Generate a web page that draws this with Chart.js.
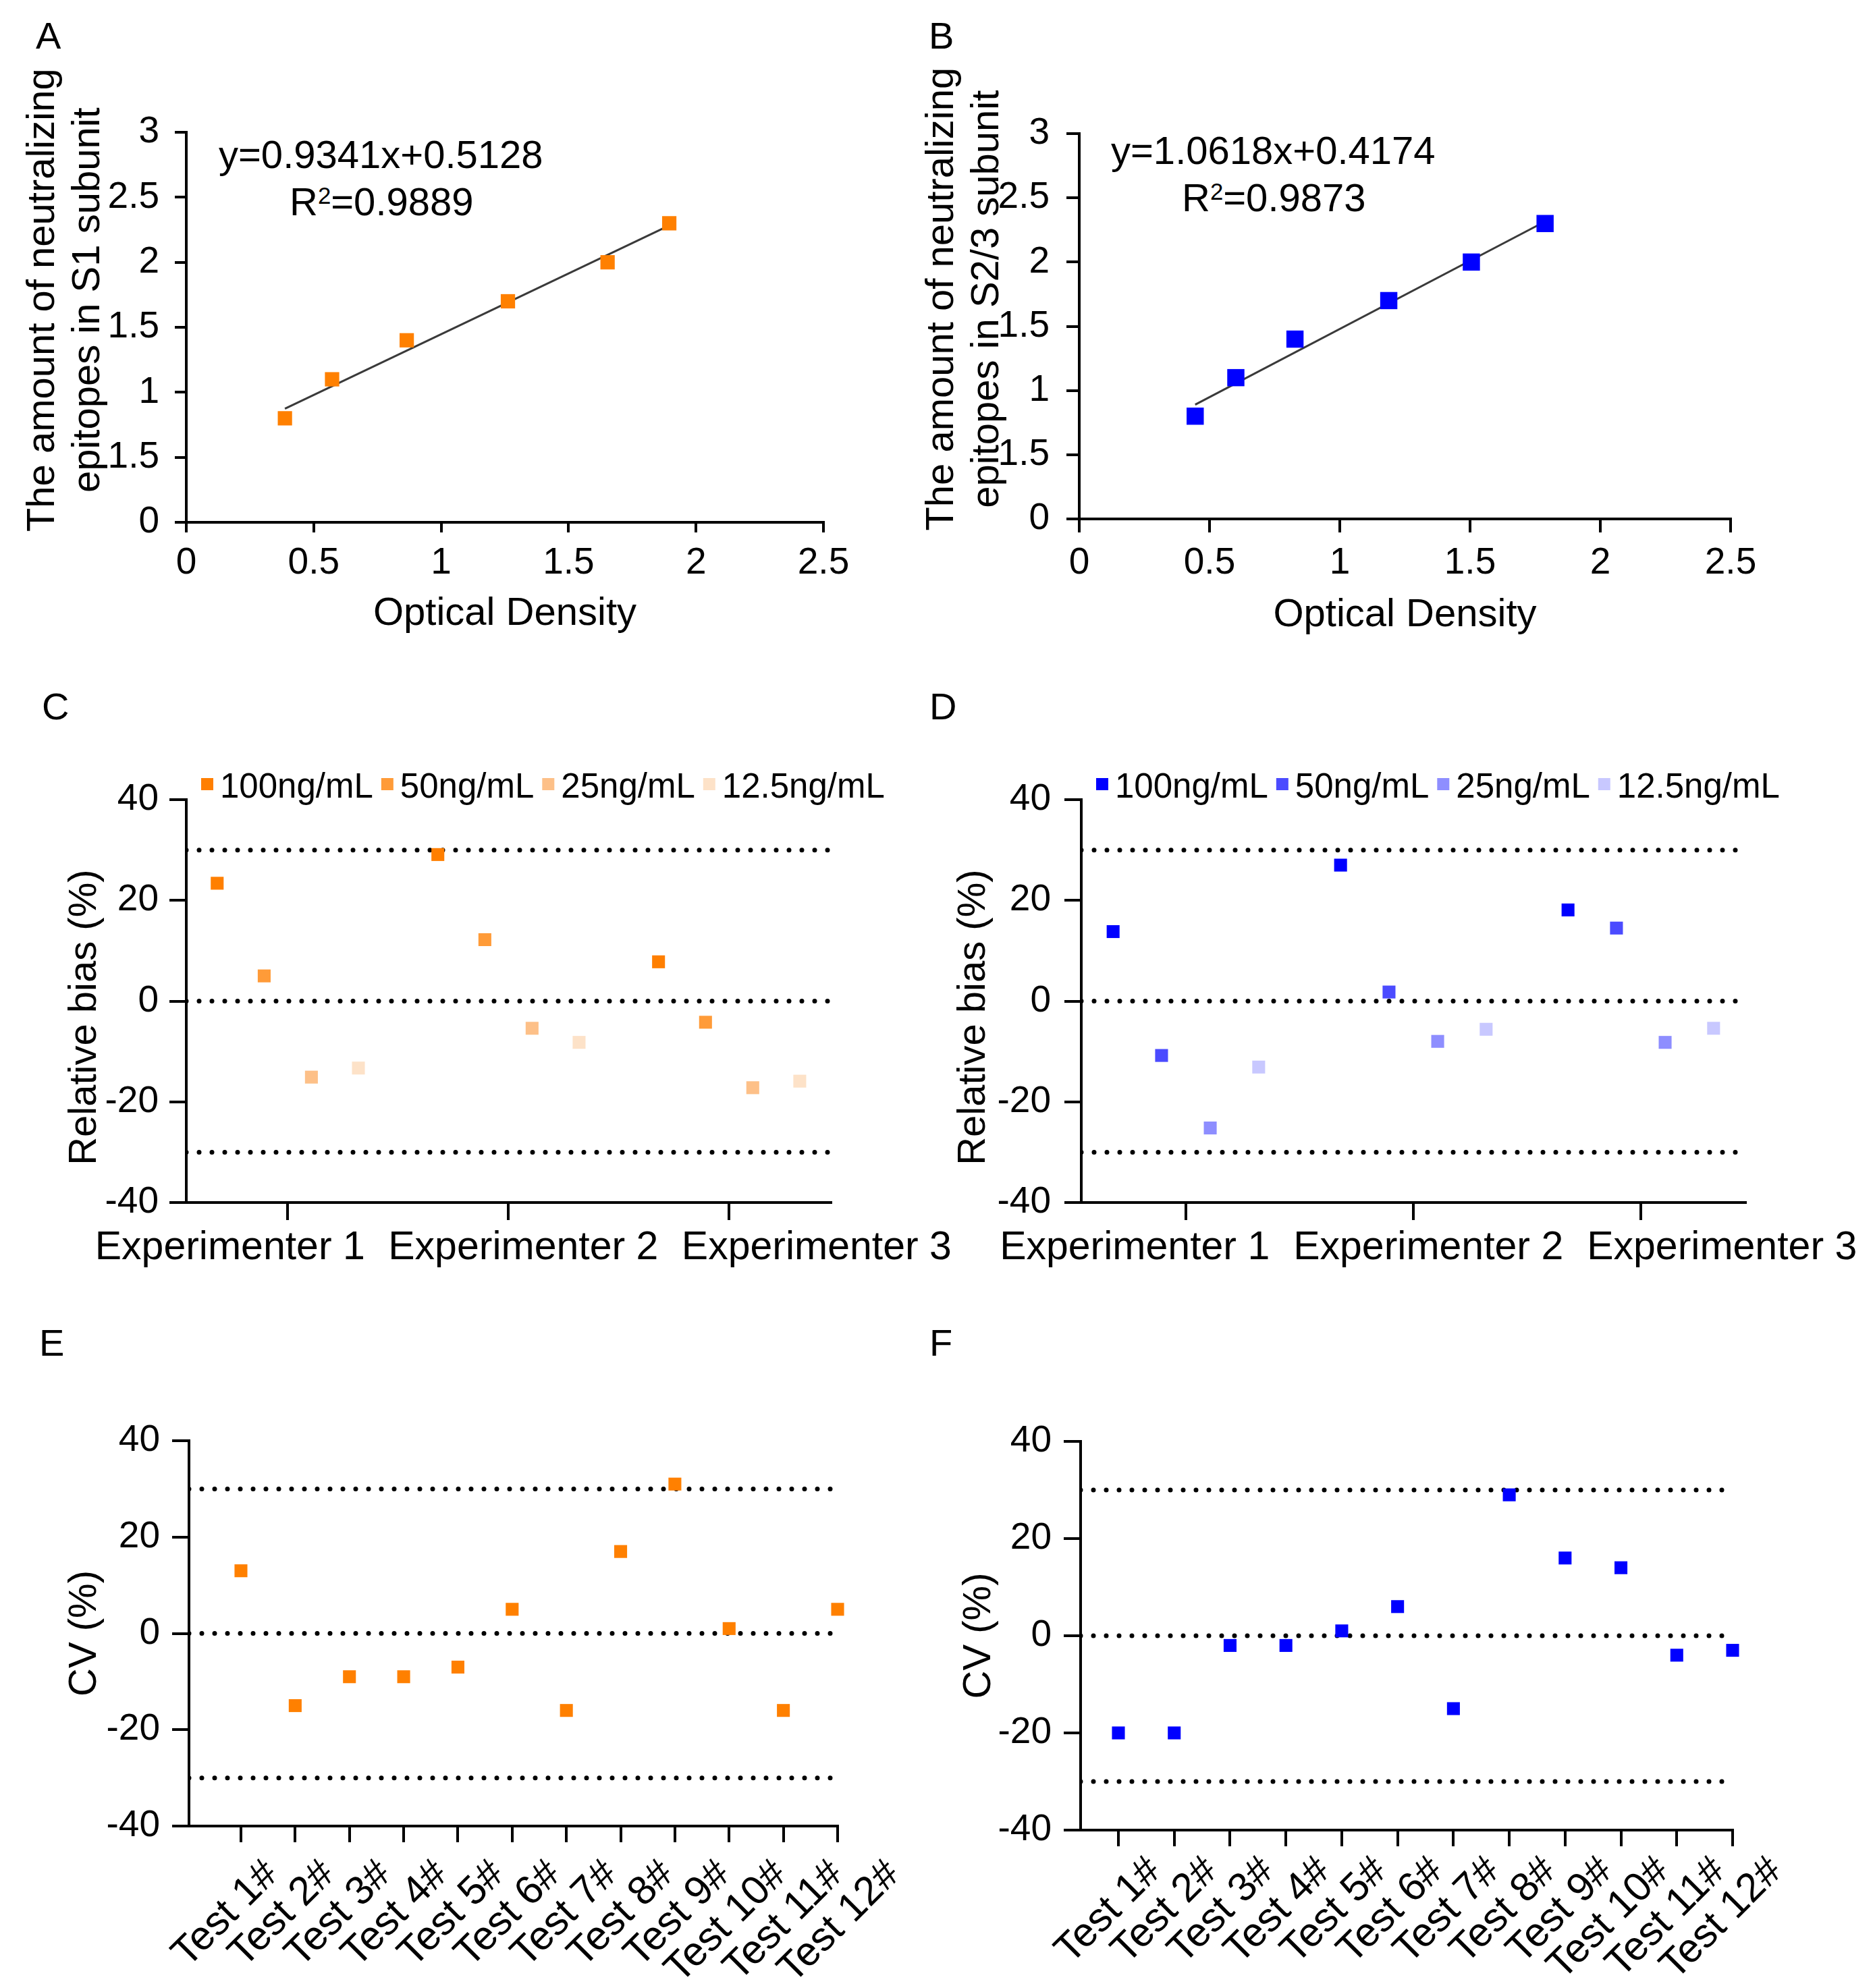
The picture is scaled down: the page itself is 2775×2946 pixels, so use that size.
<!DOCTYPE html>
<html><head><meta charset="utf-8">
<script src="https://cdn.jsdelivr.net/npm/chart.js@4.4.1/dist/chart.umd.min.js"></script>
<style>
html,body{margin:0;padding:0;background:#fff;}
body{width:2775px;height:2946px;position:relative;overflow:hidden;font-family:'Liberation Sans',Arial,sans-serif;color:#000;}
canvas{position:absolute;}
.lbl{position:absolute;font-size:56px;line-height:1;white-space:nowrap;}
.eq{position:absolute;font-size:58px;line-height:1;white-space:nowrap;}
.eq .sp{font-size:0.6em;position:relative;top:-0.5em;}
</style></head><body>
<div class="lbl" style="left:53px;top:25px">A</div>
<div class="lbl" style="left:1376px;top:25px">B</div>
<div class="lbl" style="left:62px;top:1019px">C</div>
<div class="lbl" style="left:1377px;top:1019px">D</div>
<div class="lbl" style="left:58px;top:1962px">E</div>
<div class="lbl" style="left:1377px;top:1962px">F</div>

<div class="eq" style="left:324px;top:200px">y=0.9341x+0.5128</div>
<div class="eq" style="left:429px;top:270px">R<span class="sp">2</span>=0.9889</div>
<div class="eq" style="left:1646px;top:194px">y=1.0618x+0.4174</div>
<div class="eq" style="left:1751px;top:264px">R<span class="sp">2</span>=0.9873</div>

<canvas id="cA" width="1280" height="883" style="left:0px;top:60px"></canvas>
<canvas id="cB" width="1294" height="885" style="left:1330px;top:60px"></canvas>
<canvas id="cC" width="1420" height="803" style="left:0px;top:1115px"></canvas>
<canvas id="cD" width="1445" height="803" style="left:1330px;top:1115px"></canvas>
<canvas id="cE" width="1441" height="862" style="left:0px;top:2084px"></canvas>
<canvas id="cF" width="1437" height="861" style="left:1330px;top:2085px"></canvas>

<script>
// ---------------- DATA ----------------
// Panel A (S1 calibration)
const odS1 = [0.387, 0.572, 0.865, 1.262, 1.653, 1.895];
const epitopeS1 = [0.8, 1.1, 1.4, 1.7, 2.0, 2.3];
const slopeS1 = 0.9341;
const interceptS1 = 0.5128;
// Panel B (S2/3 calibration)
const odS23 = [0.445, 0.601, 0.828, 1.188, 1.505, 1.788];
const epitopeS23 = [0.8, 1.1, 1.4, 1.7, 2.0, 2.3];
const slopeS23 = 1.0618;
const interceptS23 = 0.4174;
// calibration axes
const odTicks = [0, 0.5, 1, 1.5, 2, 2.5];
const odTickLabels = ['0', '0.5', '1', '1.5', '2', '2.5'];
const epTicks = [0, 0.5, 1, 1.5, 2, 2.5, 3];
const epTickLabels = ['0', '1.5', '1', '1.5', '2', '2.5', '3'];
// Panels C / D (relative bias)
const experimenters = ['Experimenter 1', 'Experimenter 2', 'Experimenter 3'];
const concentrations = ['100ng/mL', '50ng/mL', '25ng/mL', '12.5ng/mL'];
const biasS1_100 = [23.4, 29.1, 7.8];
const biasS1_50 = [5.0, 12.2, -4.2];
const biasS1_25 = [-15.1, -5.4, -17.2];
const biasS1_12 = [-13.3, -8.2, -15.9];
const biasS23_100 = [13.8, 27.0, 18.1];
const biasS23_50 = [-10.8, 1.8, 14.5];
const biasS23_25 = [-25.2, -8.0, -8.2];
const biasS23_12 = [-13.1, -5.6, -5.4];
// Panels E / F (CV)
const tests = ['Test 1#', 'Test 2#', 'Test 3#', 'Test 4#', 'Test 5#', 'Test 6#', 'Test 7#', 'Test 8#', 'Test 9#', 'Test 10#', 'Test 11#', 'Test 12#'];
const cvS1 = [13, -15, -9, -9, -7, 5, -16, 17, 31, 1, -16, 5];
const cvS23 = [-20, -20, -2, -2, 1, 6, -15, 29, 16, 14, -4, -3];
// percent axes
const pctTicks = [-40, -20, 0, 20, 40];
const pctTickLabels = ['-40', '-20', '0', '20', '40'];
const limitLines = [30, 0, -30];

// ---------------- STYLE ----------------
const FONT = "'Liberation Sans', Arial, sans-serif";
Chart.defaults.font.family = FONT;
Chart.defaults.color = '#000';
const ORANGE = '#FF8000';
const BLUE = '#0000FF';
const orangeShades = ['#FF7F00', '#FF9B38', '#FDC088', '#FDE2C8'];
const blueShades = ['#0000FF', '#4B4BFF', '#8E8EFF', '#C8C8FF'];
const dodge = [-0.32, -0.107, 0.107, 0.32];

const squareLegend = {
  id: 'squareLegend',
  afterDraw(chart, args, o) {
    if (!o || !o.display) return;
    const ctx = chart.ctx, ca = chart.chartArea;
    ctx.save();
    ctx.font = o.fontSize + 'px ' + FONT;
    ctx.textBaseline = 'middle';
    ctx.textAlign = 'left';
    let x = ca.left + o.offsetX;
    const yBox = ca.top + o.boxDy, yText = ca.top + o.textDy;
    chart.data.datasets.forEach(ds => {
      if (!ds.inLegend) return;
      ctx.fillStyle = ds.backgroundColor;
      ctx.fillRect(x, yBox - o.box / 2, o.box, o.box);
      x += o.box + o.gap;
      ctx.fillStyle = '#000';
      ctx.fillText(ds.label, x, yText);
      x += ctx.measureText(ds.label).width + o.itemGap;
    });
    ctx.restore();
  }
};

function yScale(o) {
  return {
    type: 'linear', position: 'left', min: o.min, max: o.max,
    afterBuildTicks: s => { s.ticks = o.ticks.map(v => ({ value: v })); },
    afterFit: s => { s.width = o.width; },
    ticks: { callback: (v, i) => o.labels[i], font: { size: 55 }, padding: o.pad, color: '#000', autoSkip: false },
    grid: { display: true, drawOnChartArea: false, drawTicks: true, tickLength: o.tickLen, color: '#000', lineWidth: 4 },
    border: { display: true, color: '#000', width: 4 },
    title: { display: true, text: o.title, color: '#000', font: { size: 58, lineHeight: 1.15 }, padding: { top: o.titlePad, bottom: 0 } }
  };
}
function xScale(o) {
  return {
    type: 'linear', position: 'bottom', weight: 0, min: o.min, max: o.max,
    afterBuildTicks: s => { s.ticks = o.ticks.map(v => ({ value: v })); },
    afterFit: s => { s.height = o.height; },
    ticks: { display: o.labels !== null, callback: (v, i) => o.labels ? o.labels[i] : '', font: { size: 55 },
      padding: o.pad, color: '#000', autoSkip: false, maxRotation: 0, minRotation: 0 },
    grid: { display: true, drawOnChartArea: false, drawTicks: true, tickLength: o.tickLen, color: '#000', lineWidth: 4 },
    border: { display: true, color: '#000', width: 4 },
    title: o.title ? { display: true, text: o.title, color: '#000', font: { size: 58, lineHeight: 1.15 }, padding: { top: 0, bottom: 0 } } : { display: false }
  };
}
// label-only bottom axis (category names), placed below the tick axis
function labelAxis(o) {
  return {
    type: 'linear', position: 'bottom', weight: 1, display: true, min: o.min, max: o.max,
    afterBuildTicks: s => { s.ticks = o.ticks.map(v => ({ value: v })); },
    afterFit: s => { s.height = o.height; },
    ticks: { callback: (v, i) => o.labels[i], font: { size: o.fontSize, lineHeight: 1.2 }, padding: o.pad, color: '#000',
      autoSkip: false, maxRotation: o.rot, minRotation: o.rot },
    grid: { display: false, drawTicks: false },
    border: { display: false }
  };
}
function limitDatasets(xmin, xmax) {
  return limitLines.map(v => ({
    label: 'limit ' + v, data: [{ x: xmin, y: v }, { x: xmax, y: v }], showLine: true,
    pointRadius: 0, borderColor: '#000', borderWidth: 7, borderDash: [0, 19], borderCapStyle: 'round'
  }));
}
const basePlugins = { legend: { display: false }, tooltip: { enabled: false } };

// ---------------- PANEL A / B ----------------
function calibChart(id, xs, ys, slope, intercept, color, r, ax) {
  const x0 = Math.min(...xs), x1 = Math.max(...xs);
  new Chart(document.getElementById(id), {
    type: 'scatter',
    data: { datasets: [
      { label: 'points', data: xs.map((x, i) => ({ x, y: ys[i] })), backgroundColor: color, pointStyle: 'rect', pointRadius: r, pointBorderWidth: 0, clip: false },
      { label: 'fit', data: [{ x: x0, y: slope * x0 + intercept }, { x: x1, y: slope * x1 + intercept }], showLine: true, pointRadius: 0, borderColor: '#3a3a3a', borderWidth: 3 }
    ] },
    options: {
      responsive: false, animation: false, devicePixelRatio: 1,
      layout: { padding: { top: ax.padT, right: 60, left: 0, bottom: 0 } },
      plugins: basePlugins,
      scales: {
        x: xScale({ min: 0, max: 2.5, ticks: odTicks, labels: odTickLabels, height: ax.xh, tickLen: ax.xtl, pad: ax.xpad, title: 'Optical Density' }),
        y: yScale({ min: 0, max: 3, ticks: epTicks, labels: epTickLabels, width: ax.yw, tickLen: ax.ytl, pad: ax.ypad, title: ax.title, titlePad: ax.titlePad })
      }
    }
  });
}
// leading spaces nudge the rotated two-line title upward, as in the original figure
const titlePush = '     ';
calibChart('cA', odS1, epitopeS1, slopeS1, interceptS1, ORANGE, 15,
  { padT: 136, xh: 169, xtl: 15, xpad: 13, yw: 276, ytl: 17, ypad: 23, title: [titlePush + 'The amount of neutralizing', titlePush + 'epitopes in S1 subunit'], titlePad: 31 });
calibChart('cB', odS23, epitopeS23, slopeS23, interceptS23, BLUE, 18,
  { padT: 138, xh: 176, xtl: 20, xpad: 13, yw: 269, ytl: 19, ypad: 25, title: [titlePush + 'The amount of neutralizing', titlePush + 'epitopes in S2/3 subunit'], titlePad: 33 });

// ---------------- PANEL C / D ----------------
function biasChart(id, series, shades, ax) {
  const xmin = 0.54, xmax = 3.46;
  const pts = series.map((vals, k) => ({
    label: concentrations[k], inLegend: true,
    data: vals.map((v, i) => ({ x: i + 1 + dodge[k], y: v })),
    backgroundColor: shades[k], pointStyle: 'rect', pointRadius: 13.5, pointBorderWidth: 0, clip: false
  }));
  new Chart(document.getElementById(id), {
    type: 'scatter',
    data: { datasets: pts.concat(limitDatasets(xmin, xmax)) },
    options: {
      responsive: false, animation: false, devicePixelRatio: 1,
      layout: { padding: { top: 70, right: ax.padR, left: 0, bottom: 0 } },
      plugins: Object.assign({}, basePlugins, { squareLegend: { display: true, fontSize: 51, box: 18, gap: 10, itemGap: 12, offsetX: 22, boxDy: -23, textDy: -17 } }),
      scales: {
        x: xScale({ min: xmin, max: xmax, ticks: [1, 2, 3], labels: null, height: 26, tickLen: 26, pad: 0 }),
        xl: labelAxis({ min: ax.lmin, max: ax.lmax, ticks: [1, 2, 3], labels: experimenters, height: 110, pad: 6, fontSize: 59, rot: 0 }),
        y: yScale({ min: -40, max: 40, ticks: pctTicks, labels: pctTickLabels, width: ax.yw, tickLen: 25, pad: ax.ypad, title: 'Relative bias (%)   ', titlePad: ax.titlePad })
      }
    },
    plugins: [squareLegend]
  });
}
biasChart('cC', [biasS1_100, biasS1_50, biasS1_25, biasS1_12], orangeShades,
  { padR: 187, lmin: 0.851, lmax: 3.048, yw: 276, ypad: 16, titlePad: 93 });
biasChart('cD', [biasS23_100, biasS23_50, biasS23_25, biasS23_12], blueShades,
  { padR: 189, lmin: 0.818, lmax: 3.08, yw: 272, ypad: 20, titlePad: 80 });

// ---------------- PANEL E / F ----------------
function cvChart(id, vals, color, ax) {
  const xmax = 12;
  const idx = tests.map((t, i) => i + 1);
  new Chart(document.getElementById(id), {
    type: 'scatter',
    data: { datasets: [
      { label: 'CV', data: vals.map((v, i) => ({ x: i + 1, y: v })), backgroundColor: color, pointStyle: 'rect', pointRadius: 13.5, pointBorderWidth: 0, clip: false }
    ].concat(limitDatasets(ax.xmin, xmax)) },
    options: {
      responsive: false, animation: false, devicePixelRatio: 1,
      layout: { padding: { top: 45, right: ax.padR, left: 0, bottom: 0 } },
      plugins: basePlugins,
      scales: {
        x: xScale({ min: ax.xmin, max: xmax, ticks: idx, labels: null, height: ax.tl, tickLen: ax.tl, pad: 0 }),
        xl: labelAxis({ min: ax.lmin, max: ax.lmax, ticks: idx, labels: tests, height: ax.xh - ax.tl, pad: ax.lpad, fontSize: 60, rot: 45 }),
        y: yScale({ min: -40, max: 40, ticks: pctTicks, labels: pctTickLabels, width: ax.yw, tickLen: 25, pad: 18, title: 'CV (%)', titlePad: ax.titlePad })
      }
    }
  });
}
cvChart('cE', cvS1, ORANGE, { xmin: 0.042, padR: 200, xh: 240, tl: 24, lmin: -0.471, lmax: 11.006, lpad: 13, yw: 280, titlePad: 93 });
cvChart('cF', cvS23, BLUE, { xmin: 0.323, padR: 200, xh: 234, tl: 24, lmin: -0.318, lmax: 11.231, lpad: 2, yw: 271, titlePad: 88 });
</script>
</body></html>
